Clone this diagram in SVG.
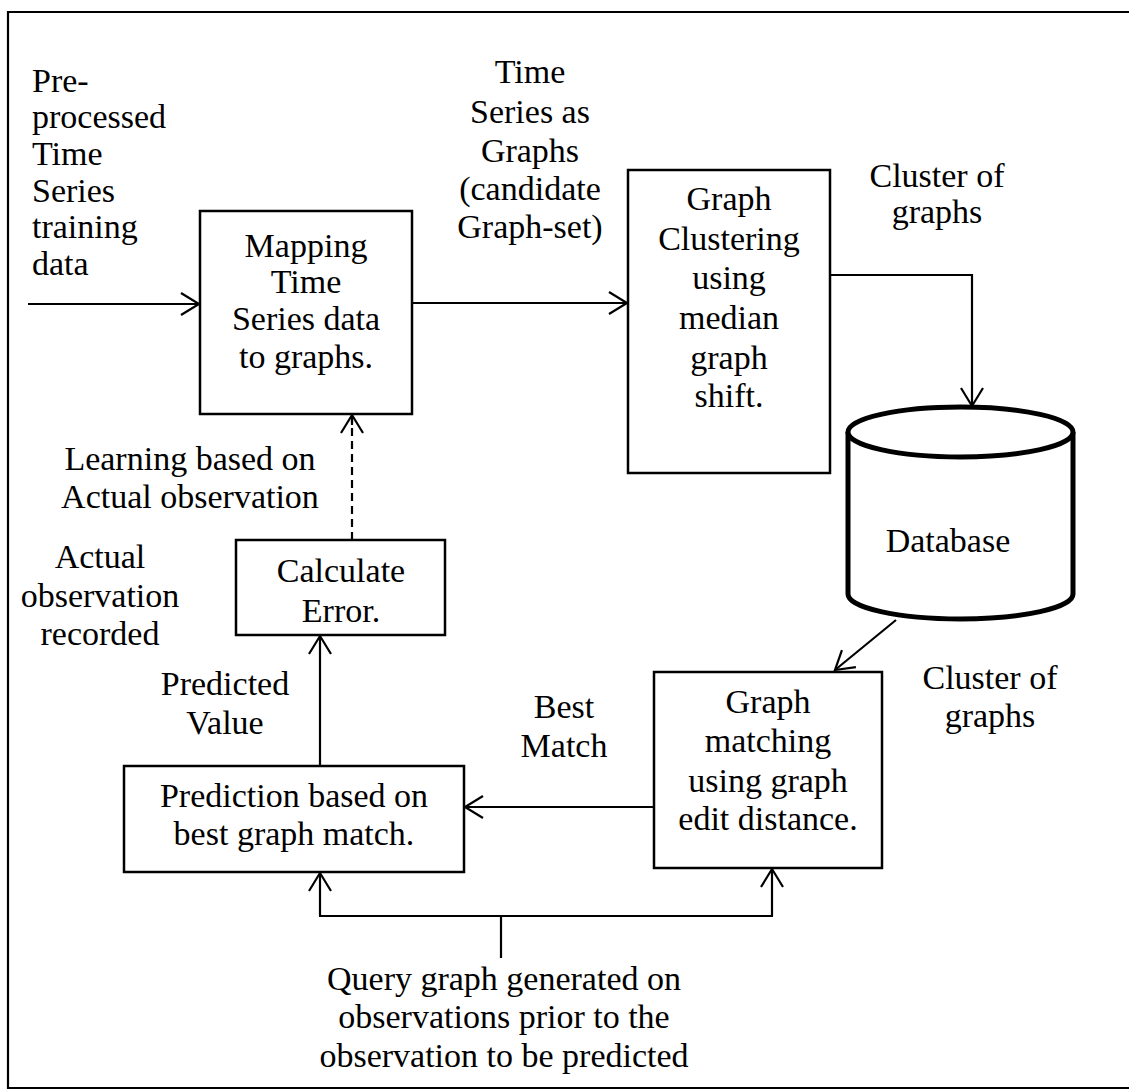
<svg xmlns="http://www.w3.org/2000/svg" width="1129" height="1091" viewBox="0 0 1129 1091">
<style>
text{font-family:"Liberation Serif","Times New Roman",serif;font-size:34px;fill:#000}
.c{text-anchor:middle}
.box{fill:#fff;stroke:#000;stroke-width:2.5}
.ln{fill:none;stroke:#000;stroke-width:2.2}
</style>
<defs>
<marker id="ah" markerUnits="userSpaceOnUse" markerWidth="30" markerHeight="30" refX="0" refY="0" viewBox="-22 -15 25 30" orient="auto">
<path d="M-18,-11 L0,0 L-18,11" fill="none" stroke="#000" stroke-width="2.2"/>
</marker>
</defs>
<rect width="1129" height="1091" fill="#fff"/>
<g id="frame">
<path class="ln" d="M1129,12 H8 V1088 H1129" stroke-width="2.5"/>
</g>
<g id="connectors">
<line class="ln" x1="28" y1="304" x2="199" y2="304" marker-end="url(#ah)"/>
<line class="ln" x1="412" y1="303" x2="627" y2="303" marker-end="url(#ah)"/>
<polyline class="ln" points="830,275 972,275 972,406" marker-end="url(#ah)"/>
<line class="ln" x1="896" y1="620" x2="835" y2="670" marker-end="url(#ah)"/>
<line class="ln" x1="654" y1="807" x2="465" y2="807" marker-end="url(#ah)"/>
<line class="ln" x1="320" y1="766" x2="320" y2="636" marker-end="url(#ah)"/>
<line class="ln" x1="352" y1="540" x2="352" y2="415" stroke-dasharray="8,5" marker-end="url(#ah)"/>
<line class="ln" x1="352" y1="425" x2="352" y2="415"/>
<polyline class="ln" points="320,916 320,873" marker-end="url(#ah)"/>
<polyline class="ln" points="772,916 772,869" marker-end="url(#ah)"/>
<line class="ln" x1="319" y1="916" x2="773" y2="916"/>
<line class="ln" x1="501" y1="916" x2="501" y2="958"/>
</g>
<g id="input-label">
<text x="32" y="92">Pre-</text>
<text x="32" y="128">processed</text>
<text x="32" y="165">Time</text>
<text x="32" y="202">Series</text>
<text x="32" y="238">training</text>
<text x="32" y="275">data</text>
</g>
<g id="mapping">
<rect class="box" x="200" y="211" width="212" height="203"/>
<text class="c" x="306" y="257">Mapping</text>
<text class="c" x="306" y="293">Time</text>
<text class="c" x="306" y="330">Series data</text>
<text class="c" x="306" y="368">to graphs.</text>
</g>
<g id="ts-graphs-label">
<text class="c" x="530" y="83">Time</text>
<text class="c" x="530" y="123">Series as</text>
<text class="c" x="530" y="162">Graphs</text>
<text class="c" x="530" y="200">(candidate</text>
<text class="c" x="530" y="238">Graph-set)</text>
</g>
<g id="clustering">
<rect class="box" x="628" y="170" width="202" height="303"/>
<text class="c" x="729" y="210">Graph</text>
<text class="c" x="729" y="250">Clustering</text>
<text class="c" x="729" y="289">using</text>
<text class="c" x="729" y="329">median</text>
<text class="c" x="729" y="369">graph</text>
<text class="c" x="729" y="407">shift.</text>
</g>
<g id="cluster-label-1">
<text class="c" x="937" y="187">Cluster of</text>
<text class="c" x="937" y="223">graphs</text>
</g>
<g id="database">
<path d="M848,432 V594 A112.5,25 0 0 0 1073,594 V432" fill="#fff" stroke="#000" stroke-width="5"/>
<ellipse cx="960.5" cy="432" rx="112.5" ry="25" fill="#fff" stroke="#000" stroke-width="5"/>
<text class="c" x="948" y="552">Database</text>
</g>
<g id="learning-label">
<text class="c" x="190" y="470">Learning based on</text>
<text class="c" x="190" y="508">Actual observation</text>
</g>
<g id="actual-label">
<text class="c" x="100" y="568">Actual</text>
<text class="c" x="100" y="607">observation</text>
<text class="c" x="100" y="645">recorded</text>
</g>
<g id="calc-error">
<rect class="box" x="236" y="540" width="209" height="95"/>
<text class="c" x="341" y="582">Calculate</text>
<text class="c" x="341" y="622">Error.</text>
</g>
<g id="predicted-label">
<text class="c" x="225" y="695">Predicted</text>
<text class="c" x="225" y="734">Value</text>
</g>
<g id="best-match-label">
<text class="c" x="564" y="718">Best</text>
<text class="c" x="564" y="757">Match</text>
</g>
<g id="cluster-label-2">
<text class="c" x="990" y="689">Cluster of</text>
<text class="c" x="990" y="727">graphs</text>
</g>
<g id="prediction">
<rect class="box" x="124" y="766" width="340" height="106"/>
<text class="c" x="294" y="807">Prediction based on</text>
<text class="c" x="294" y="845">best graph match.</text>
</g>
<g id="matching">
<rect class="box" x="654" y="672" width="228" height="196"/>
<text class="c" x="768" y="713">Graph</text>
<text class="c" x="768" y="752">matching</text>
<text class="c" x="768" y="792">using graph</text>
<text class="c" x="768" y="830">edit distance.</text>
</g>
<g id="query-label">
<text class="c" x="504" y="990">Query graph generated on</text>
<text class="c" x="504" y="1028">observations prior to the</text>
<text class="c" x="504" y="1067">observation to be predicted</text>
</g>
</svg>
